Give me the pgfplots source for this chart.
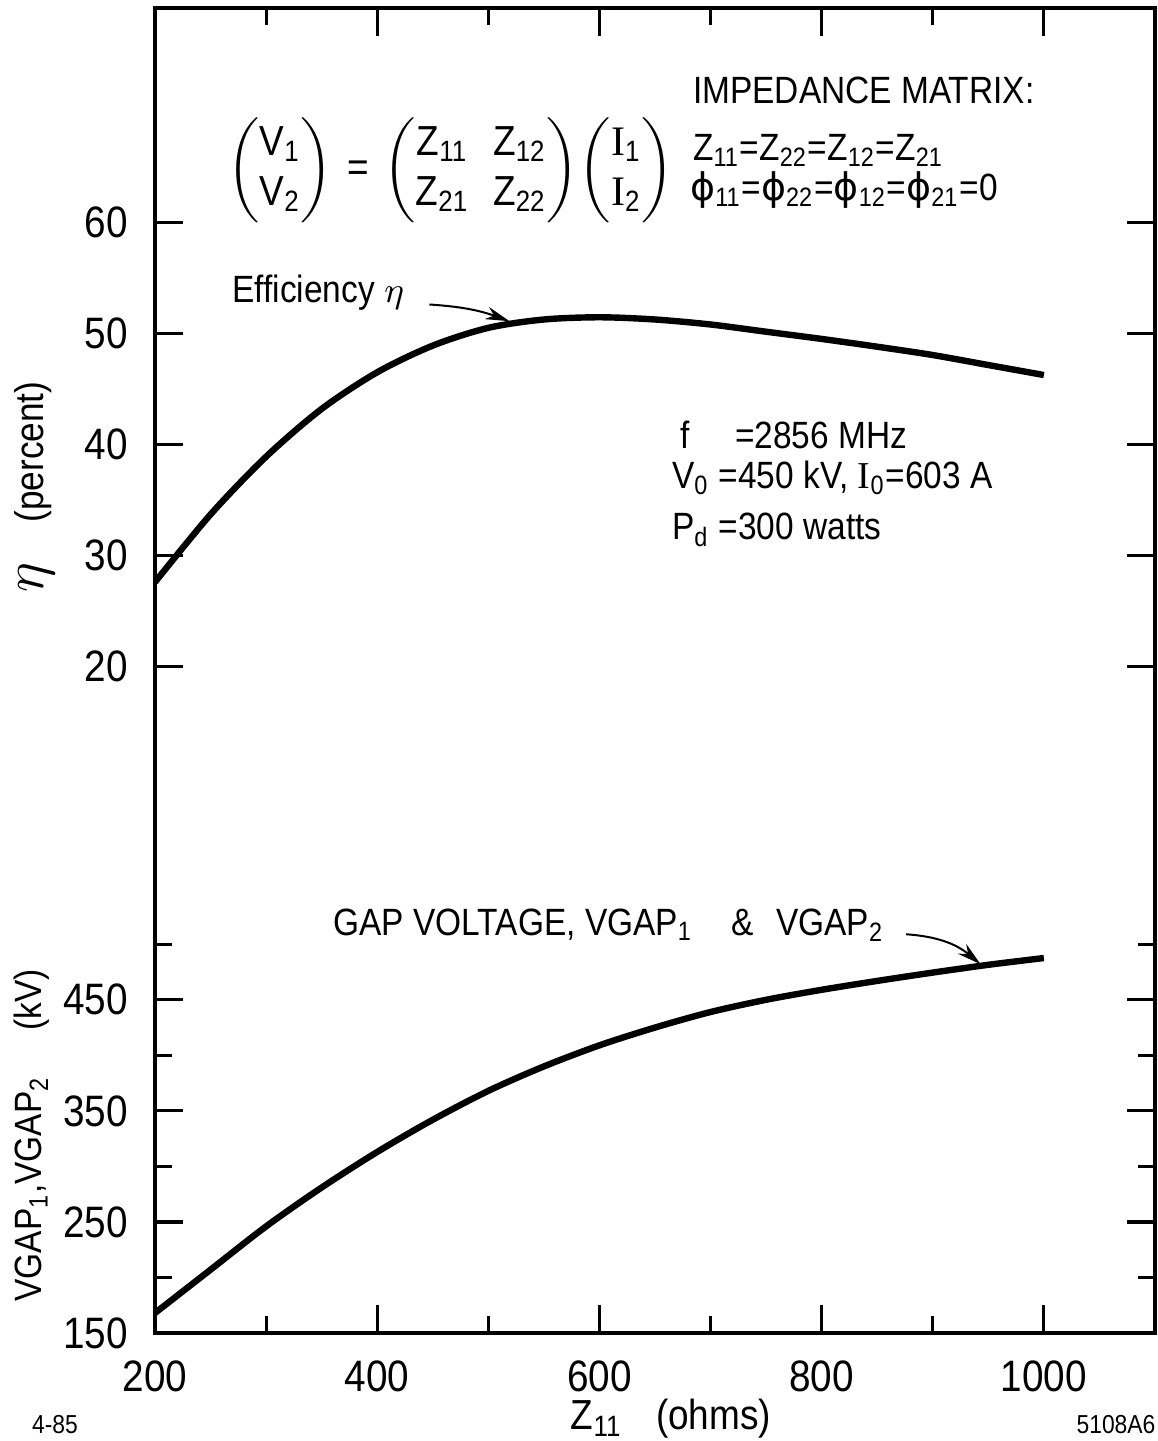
\documentclass[border=0pt]{standalone}
\usepackage{amsmath}
\usepackage{fontspec}
\setmainfont{Liberation Sans}[FakeStretch=0.88]
\newfontfamily\serifI{Liberation Serif}
\newfontfamily\dejavu{DejaVu Sans}
\usepackage{pgfplots}
\pgfplotsset{compat=1.18}
\usetikzlibrary{arrows.meta}
\newcommand{\sub}[1]{\textsubscript{#1}}
\newcommand{\sI}{{\serifI I}}
\newcommand{\ph}{{\dejavu ϕ}}

\pgfplotstableread{
z eta
200 27.6
250 33.7
300 38.9
350 43.2
400 46.5
450 48.9
500 50.5
550 51.25
600 51.45
650 51.25
700 50.8
750 50.15
800 49.5
850 48.8
900 48.05
950 47.15
1000 46.25
}\etatable

\pgfplotstableread{
z kv
200 168
250 207
300 246
350 281
400 313
450 342
500 368
550 390
600 409
650 425
700 439
750 450
800 459
850 467
900 474.5
950 481.5
1000 487.6
}\kvtable

\begin{document}
\begin{tikzpicture}
\pgfplotsset{
 base/.style={
  scale only axis, width=250pt, height=331.25pt,
  xmin=200, xmax=1100,
  axis line style={line width=0.8pt},
  every tick/.style={line width=0.8pt, black},
  major tick length=7pt, minor tick length=4.3pt,
  tick align=inside,
  /pgf/number format/assume math mode=true,
  /pgf/number format/set thousands separator={},
  tick label style={font=\fontsize{11}{12}\selectfont},
  yticklabel style={xshift=-3.3pt},
 }
}
\begin{axis}[base,
  ymin=-40, ymax=79.3,
  ytick={20,30,40,50,60},
  xtick={200,400,600,800,1000},
  minor xtick={300,500,700,900},
  xticklabel style={yshift=-3.5pt},
  xlabel={Z\sub{11}\hspace{0.8em}(ohms)},
  xlabel style={at={(axis description cs:0.516,0)}, anchor=center, yshift=-21.5pt, font=\fontsize{10.5}{12}\selectfont},
  ylabel={\Large$\eta$\normalsize\hspace{1.0em}(percent)},
  ylabel style={at={(axis description cs:-0.12,0.6385)}, anchor=center, font=\fontsize{9.5}{11}\selectfont},
]
\addplot[line width=1.6pt, smooth, black] table[x=z,y=eta] {\etatable};
\begin{scope}[font=\fontsize{9.5}{11}\selectfont, every node/.style={inner sep=0pt}]
\node[anchor=west] at (axis cs:683.6,71.9) {IMPEDANCE MATRIX:};
\node[anchor=west] at (axis cs:683.6,66.5) {Z\sub{11}=Z\sub{22}=Z\sub{12}=Z\sub{21}};
\node[anchor=west] at (axis cs:681,62.9) {\ph\sub{11}=\ph\sub{22}=\ph\sub{12}=\ph\sub{21}=0};
\node[font=\fontsize{10.5}{12.5}\selectfont] at (axis cs:466,64.7) {\arraycolsep=3pt$\begin{pmatrix}\text{V}_{\text{1}}\\ \text{V}_{\text{2}}\end{pmatrix}\,\text{=}\,\begin{pmatrix}\text{Z}_{\text{11}} & \text{Z}_{\text{12}}\\ \text{Z}_{\text{21}} & \text{Z}_{\text{22}}\end{pmatrix}\!\begin{pmatrix}\text{\sI}_{\text{1}}\\ \text{\sI}_{\text{2}}\end{pmatrix}$};
\node[anchor=west] at (axis cs:269,53.7) {Efficiency $\eta$};
\draw[-{Stealth[length=6pt,width=3.2pt]}, line width=0.5pt] (axis cs:447,52.6) to[bend left=8] (axis cs:519,51.1);
\node[anchor=west] at (axis cs:672,40.85) {f\hspace{1.2em}=2856 MHz};
\node[anchor=west] at (axis cs:664.7,37.0) {V\sub{0} =450 kV, \sI\sub{0}=603 A};
\node[anchor=west] at (axis cs:664.7,32.3) {P\sub{d} =300 watts};
\end{scope}
\end{axis}
\begin{axis}[base,
  ymin=150, ymax=1343,
  ytick={150,250,350,450},
  minor ytick={200,300,400,500},
  xtick=\empty,
  ylabel={VGAP\sub{1},VGAP\sub{2}\hspace{1.2em}(kV)},
  ylabel style={at={(axis description cs:-0.123,0.149)}, anchor=center, font=\fontsize{9.5}{11}\selectfont},
]
\addplot[line width=1.6pt, smooth, black] table[x=z,y=kv] {\kvtable};
\begin{scope}[font=\fontsize{9.5}{11}\selectfont]
\node[anchor=west, inner sep=0pt] at (axis cs:360,517.5) {GAP VOLTAGE, VGAP\sub{1}\hspace{1em}\&\hspace{0.6em}VGAP\sub{2}};
\draw[-{Stealth[length=6pt,width=3.2pt]}, line width=0.5pt] (axis cs:876,509) to[bend left=18] (axis cs:943,482);
\end{scope}
\end{axis}
\node[anchor=center, font=\fontsize{6.5}{8}\selectfont] at (-25pt,-23pt) {4-85};
\node[anchor=center, font=\fontsize{6.5}{8}\selectfont] at (240.25pt,-23pt) {5108A6};
\pgfresetboundingbox
\useasboundingbox (-38.75pt,-27pt) rectangle (250.5pt,333.25pt);
\end{tikzpicture}
\end{document}
